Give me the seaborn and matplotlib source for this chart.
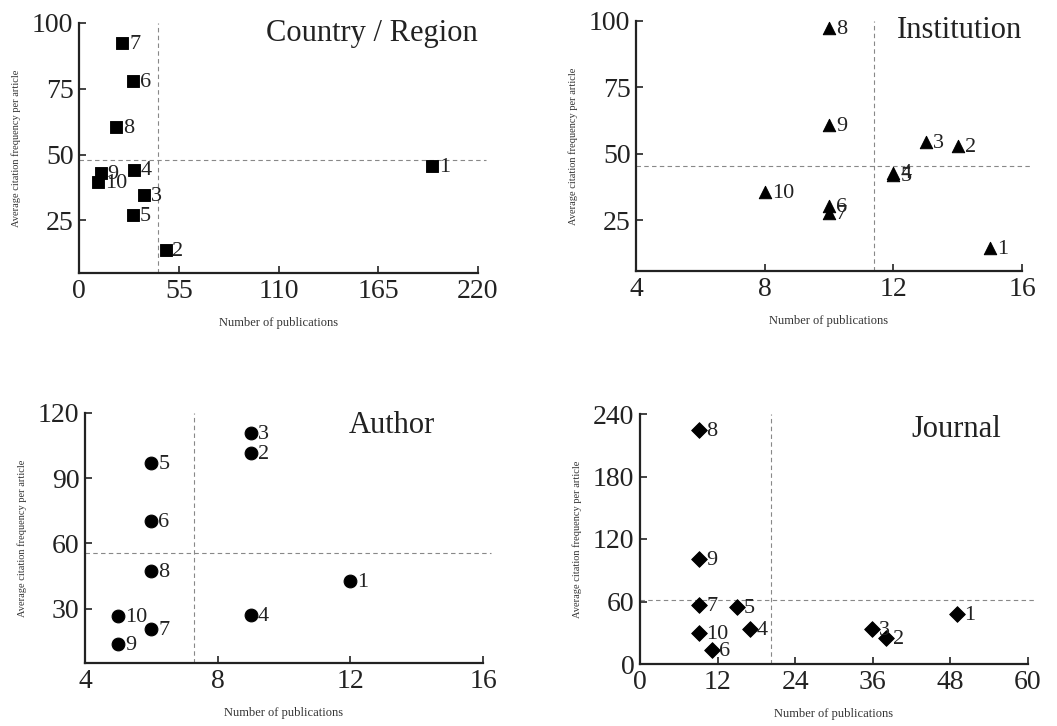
import matplotlib
matplotlib.use('Agg')
import matplotlib.pyplot as plt
import pandas as pd
import seaborn as sns

# point ids (rank 1..10)
ids = [str(i) for i in range(1, 11)]

# Country / Region
country_pubs = [194.7, 47.7, 35.9, 30.4, 29.9, 29.9, 23.8, 20.3, 11.9, 10.6]
country_cite = [45.5, 13.8, 34.5, 44.3, 26.9, 78.0, 92.5, 60.6, 43.0, 39.5]
country_ref = (43.3, 48.1)

# Institution
inst_pubs = [15.0, 14.0, 13.0, 12.0, 12.0, 10.0, 10.0, 10.0, 10.0, 8.0]
inst_cite = [14.6, 53.0, 54.6, 43.0, 42.0, 30.3, 27.8, 97.5, 60.9, 35.6]
inst_ref = (11.4, 45.5)

# Author
author_pubs = [12, 9, 9, 9, 6, 6, 6, 6, 5, 5]
author_cite = [42.7, 101.6, 110.8, 26.9, 97.0, 70.3, 20.5, 47.3, 13.6, 26.6]
author_ref = (7.29, 55.7)

# Journal
journal_pubs = [49.0, 38.1, 35.9, 17.0, 15.0, 11.1, 9.2, 9.2, 9.2, 9.2]
journal_cite = [48.0, 25.0, 33.6, 33.6, 54.7, 13.8, 56.3, 224.3, 100.8, 29.8]
journal_ref = (20.2, 61.8)

sns.set_style('ticks')
plt.rcParams['font.family'] = ['Liberation Serif', 'DejaVu Serif']

W, H = 1057, 726
fig = plt.figure(figsize=(W / 100, H / 100), dpi=100)


def make_axes(left, right, top, bottom):
    return fig.add_axes([left / W, 1 - bottom / H, (right - left) / W, (bottom - top) / H])


panels = [
    dict(box=(79, 478, 23, 273), x=country_pubs, y=country_cite, ref=country_ref, marker='s', s=64,
         title='Country / Region', tpos=(1.0, 0.96), xlim=(0, 220), xt=[0, 55, 110, 165, 220],
         ylim=(5, 100), yt=[25, 50, 75, 100]),
    dict(box=(636, 1022, 21, 271), x=inst_pubs, y=inst_cite, ref=inst_ref, marker='^', s=80,
         title='Institution', tpos=(1.0, 0.96), xlim=(4, 16), xt=[4, 8, 12, 16],
         ylim=(6, 100), yt=[25, 50, 75, 100]),
    dict(box=(85, 483, 413, 663), x=author_pubs, y=author_cite, ref=author_ref, marker='o', s=85,
         title='Author', tpos=(0.88, 0.95), xlim=(4, 16), xt=[4, 8, 12, 16],
         ylim=(5, 120), yt=[30, 60, 90, 120]),
    dict(box=(640, 1028, 414, 664), x=journal_pubs, y=journal_cite, ref=journal_ref, marker='D', s=64,
         title='Journal', tpos=(0.93, 0.94), xlim=(0, 60), xt=[0, 12, 24, 36, 48, 60],
         ylim=(0, 240), yt=[0, 60, 120, 180, 240]),
]

for p in panels:
    ax = make_axes(*p['box'])
    df = pd.DataFrame({'pubs': p['x'], 'cite': p['y'], 'id': ids})
    sns.scatterplot(data=df, x='pubs', y='cite', marker=p['marker'], s=p['s'],
                    color='black', edgecolor='black', ax=ax, zorder=3)
    for _, r in df.iterrows():
        ax.annotate(r['id'], (r['pubs'], r['cite']), xytext=(5, -1), textcoords='offset points',
                    ha='left', va='center', fontsize=16, color='#222222', zorder=4)
    ax.axvline(p['ref'][0], color='#888888', lw=0.8, ls=(0, (4, 3)), zorder=1)
    ax.axhline(p['ref'][1], color='#888888', lw=0.8, ls=(0, (4, 3)), zorder=1, xmax=1.02, clip_on=False)
    ax.set_xlim(*p['xlim'])
    ax.set_ylim(*p['ylim'])
    ax.set_xticks(p['xt'])
    ax.set_yticks(p['yt'])
    ax.tick_params(direction='in', length=5, width=1.2, labelsize=20, pad=4, colors='#222222')
    for side in ['left', 'bottom']:
        ax.spines[side].set_linewidth(1.6)
        ax.spines[side].set_color('#222222')
    sns.despine(ax=ax)
    ax.set_xlabel('Number of publications', fontsize=9, labelpad=10, color='#333333')
    ax.set_ylabel('Average citation frequency per article', fontsize=7.5, labelpad=8, color='#333333')
    ax.text(p['tpos'][0], p['tpos'][1], p['title'], transform=ax.transAxes, ha='right', va='center',
            fontsize=22, color='#222222')

fig.savefig('out.png', dpi=100)
